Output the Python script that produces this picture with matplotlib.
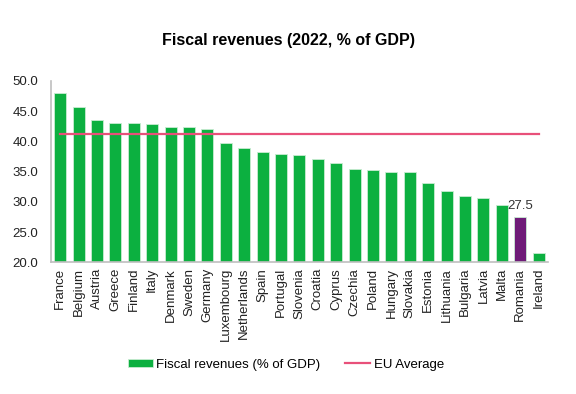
import matplotlib.pyplot as plt
import numpy as np

plt.rcParams['font.family'] = ['Liberation Sans', 'DejaVu Sans']

countries = ['France', 'Belgium', 'Austria', 'Greece', 'Finland', 'Italy', 'Denmark',
             'Sweden', 'Germany', 'Luxembourg', 'Netherlands', 'Spain', 'Portugal',
             'Slovenia', 'Croatia', 'Cyprus', 'Czechia', 'Poland', 'Hungary', 'Slovakia',
             'Estonia', 'Lithuania', 'Bulgaria', 'Latvia', 'Malta', 'Romania', 'Ireland']
revenues = [47.9, 45.6, 43.5, 43.1, 43.1, 42.9, 42.4, 42.3, 42.0, 39.7, 38.9, 38.2, 37.9,
            37.7, 37.1, 36.4, 35.4, 35.3, 35.0, 35.0, 33.1, 31.8, 31.0, 30.7, 29.5, 27.5, 21.6]
eu_average = 41.2
highlight = 'Romania'

green = '#0cb040'
purple = '#6f1b78'
pink = '#e8507a'

fig = plt.figure(figsize=(5.76, 3.94), dpi=100)
ax = fig.add_axes([0.0885, 0.334, 0.8625, 0.461])

x = np.arange(len(countries))
colors = [purple if c == highlight else green for c in countries]
bars = ax.bar(x, np.array(revenues) - 20, bottom=20, width=0.65, color=colors,
              edgecolor='#c8ecd2', linewidth=0.6, label='Fiscal revenues (% of GDP)')
line, = ax.plot([x[0], x[-1]], [eu_average, eu_average], color=pink, linewidth=1.6,
                label='EU Average')

i = countries.index(highlight)
ax.text(x[i], revenues[i] + 0.9, f'{revenues[i]:.1f}', ha='center', va='bottom',
        fontsize=9.5, color='#333333')

ax.set_xlim(-0.5, len(countries) - 0.5)
ax.set_ylim(20, 50)
ax.set_yticks(np.arange(20, 50.1, 5))
ax.set_yticklabels([f'{v:.1f}' for v in np.arange(20, 50.1, 5)])
ax.set_xticks(x)
ax.set_xticklabels(countries, rotation=90)
ax.tick_params(axis='both', length=0, labelsize=9.5, colors='#222222')
ax.tick_params(axis='y', pad=9)
ax.tick_params(axis='x', pad=4)

for s in ['top', 'right']:
    ax.spines[s].set_visible(False)
for s in ['left', 'bottom']:
    ax.spines[s].set_color('#bfbfbf')
    ax.spines[s].set_linewidth(1.2)

fig.suptitle('Fiscal revenues (2022, % of GDP)', fontsize=11.5, fontweight='bold',
             x=0.5, y=0.897, va='center')

fig.legend([bars, line], ['Fiscal revenues (% of GDP)', 'EU Average'],
           loc='center', bbox_to_anchor=(0.496, 0.074), ncol=2, frameon=False,
           fontsize=9.5, handlelength=1.9, handletextpad=0.25, columnspacing=1.9,
           handleheight=0.6)

fig.savefig('out.png', dpi=100)
